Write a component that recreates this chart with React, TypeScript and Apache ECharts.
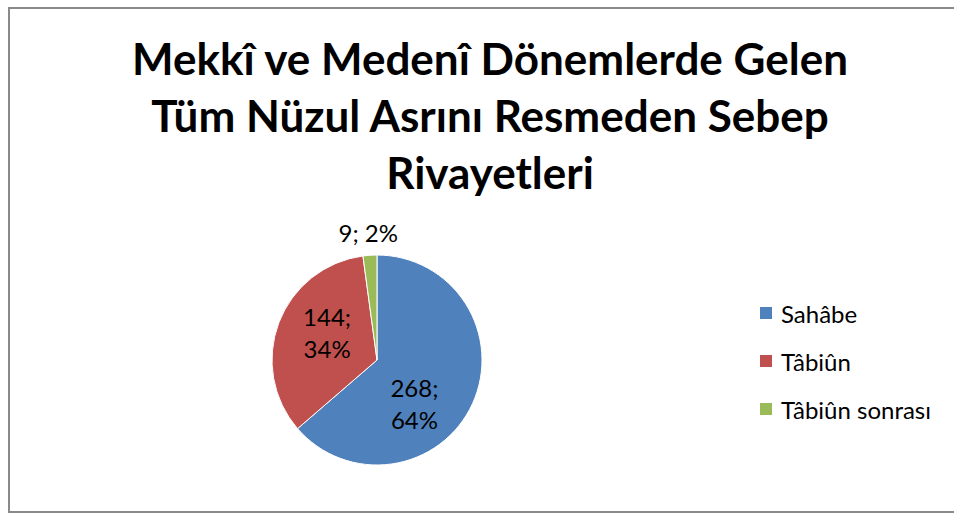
import React, { useEffect, useRef } from "react";
import * as echarts from "echarts";

const titleLines = [
  "Mekkî ve Medenî Dönemlerde Gelen",
  "Tüm Nüzul Asrını Resmeden Sebep",
  "Rivayetleri",
];
const categories = ["Sahâbe", "Tâbiûn", "Tâbiûn sonrası"];
const counts = [268, 144, 9];

const COLORS = ["#4F81BD", "#C0504D", "#9BBB59"];
const FONT = "Lato, 'Open Sans', sans-serif";
const LABEL_OFFSETS = [
  { dx: -13, dy: 20 },
  { dx: 2, dy: -8 },
  { dx: -5, dy: -72 },
];

export default function App() {
  const ref = useRef<HTMLDivElement>(null);
  useEffect(() => {
    if (!ref.current) return;
    const chart = echarts.init(ref.current, undefined, { renderer: "svg" });
    const data = categories.map((name, i) => ({
      name,
      value: counts[i],
      itemStyle: { color: COLORS[i] },
      label: { formatter: i === 2 ? "{c}; {d}%" : "{c};\n{d}%" },
    }));
    chart.setOption({
      animation: false,
      backgroundColor: "#ffffff",
      graphic: [
        {
          type: "rect",
          shape: { x: 9, y: 8, width: 960, height: 504 },
          style: { fill: "none", stroke: "#8a8a8a", lineWidth: 2 },
          silent: true,
        },
      ],
      title: {
        text: titleLines.join("\n"),
        left: 485,
        textAlign: "center",
        top: 24,
        textStyle: {
          fontFamily: FONT,
          fontWeight: "bold",
          fontSize: 44,
          lineHeight: 57,
          color: "#000",
        },
      },
      legend: {
        orient: "vertical",
        left: 753,
        top: 296,
        itemWidth: 14,
        itemHeight: 14,
        itemGap: 24,
        icon: "rect",
        data: categories,
        textStyle: {
          fontFamily: FONT,
          fontSize: 24,
          lineHeight: 24,
          color: "#000",
          padding: [0, 0, 0, 3],
        },
      },
      series: [
        {
          type: "pie",
          center: [377, 360],
          radius: 105,
          startAngle: 90,
          clockwise: true,
          percentPrecision: 0,
          data,
          itemStyle: { borderColor: "#fff", borderWidth: 1 },
          label: {
            show: true,
            position: "inside",
            fontFamily: FONT,
            fontSize: 24,
            lineHeight: 32,
            color: "#000",
          },
          labelLine: { show: false },
          labelLayout: (params: any) => LABEL_OFFSETS[params.dataIndex],
          emphasis: { disabled: true },
        },
      ],
    });
    return () => chart.dispose();
  }, []);
  return (
    <div
      ref={ref}
      style={{ position: "fixed", left: 0, top: 0, width: 954, height: 514 }}
    />
  );
}
